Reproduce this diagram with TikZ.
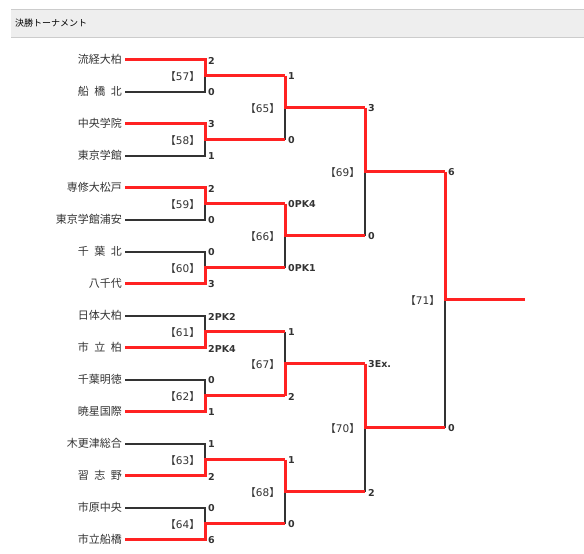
\documentclass[tikz,border=0pt]{standalone}
\usepackage{fontspec}
\newfontfamily\cjk{Noto Sans CJK JP}
\newfontfamily\numf{DejaVu Sans}
\definecolor{ink}{HTML}{333333}
\definecolor{win}{HTML}{FF2222}
\definecolor{hdr}{HTML}{EEEEEE}
\definecolor{hdrline}{HTML}{CCCCCC}
\newcommand\hs{\hspace{0.5em}}
\newcommand\mlab[1]{【{\numf #1}】}
\begin{document}
\begin{tikzpicture}[x=1pt,y=-1pt,
  team/.style={anchor=east,inner sep=0pt,font=\cjk\fontsize{11}{11}\selectfont,text=ink},
  score/.style={anchor=west,inner sep=0pt,font=\numf\bfseries\fontsize{9.5}{9.5}\selectfont,text=ink},
  mlabel/.style={anchor=east,inner sep=0pt,font=\cjk\fontsize{10.5}{10.5}\selectfont,text=ink},
  lose/.style={draw=ink,line width=2pt},
  winl/.style={draw=win,line width=3pt},
  hdrbox/.style={fill=hdr,draw=none,minimum width=573pt,minimum height=28pt,inner sep=0pt,anchor=north west},
  hdrrule/.style={draw=hdrline,line width=1pt},
  title/.style={anchor=west,inner sep=0pt,font=\cjk\fontsize{9}{9}\selectfont,text=black}
]
\useasboundingbox (0,0) rectangle (584,554);
\fill[white] (0,0) rectangle (584,554);
% header
\node[hdrbox] (header) at (11,9) {};
\draw[hdrrule] (header.north west) -- (header.north east);
\draw[hdrrule] (header.south west) -- (header.south east);
\node[title] (htitle) at (15,23.5) {決勝トーナメント};
% team line coordinates
\foreach \i/\y in {1/59.5,2/91.5,3/123.5,4/155.5,5/187.5,6/219.5,7/251.5,8/283.5,
  9/315.5,10/347.5,11/379.5,12/411.5,13/443.5,14/475.5,15/507.5,16/539.5}{
  \coordinate (s\i) at (125,\y);
  \coordinate (e\i) at (205,\y);
}
% round junctions
\foreach \k/\y in {1/75.5,2/139.5,3/203.5,4/267.5,5/331.5,6/395.5,7/459.5,8/523.5}{
  \coordinate (j\k) at (205,\y);
  \coordinate (p\k) at (285,\y);
}
\foreach \k/\y in {1/107.5,2/235.5,3/363.5,4/491.5}{
  \coordinate (k\k) at (285,\y);
  \coordinate (q\k) at (365,\y);
}
\foreach \k/\y in {1/171.5,2/427.5}{
  \coordinate (l\k) at (365,\y);
  \coordinate (r\k) at (445,\y);
}
\coordinate (f) at (445,299.5);
\coordinate (c) at (525,299.5);
% team names
\node[team] (n1) at (122,59.5) {流経大柏};
\node[team] (n2) at (122,91.5) {船\hs 橋\hs 北};
\node[team] (n3) at (122,123.5) {中央学院};
\node[team] (n4) at (122,155.5) {東京学館};
\node[team] (n5) at (122,187.5) {専修大松戸};
\node[team] (n6) at (122,219.5) {東京学館浦安};
\node[team] (n7) at (122,251.5) {千\hs 葉\hs 北};
\node[team] (n8) at (122,283.5) {八千代};
\node[team] (n9) at (122,315.5) {日体大柏};
\node[team] (n10) at (122,347.5) {市\hs 立\hs 柏};
\node[team] (n11) at (122,379.5) {千葉明徳};
\node[team] (n12) at (122,411.5) {暁星国際};
\node[team] (n13) at (122,443.5) {木更津総合};
\node[team] (n14) at (122,475.5) {習\hs 志\hs 野};
\node[team] (n15) at (122,507.5) {市原中央};
\node[team] (n16) at (122,539.5) {市立船橋};
% losing lines
\draw[lose] (s2)--(e2)--(j1);
\draw[lose] (s4)--(e4)--(j2);
\draw[lose] (s6)--(e6)--(j3);
\draw[lose] (s7)--(e7)--(j4);
\draw[lose] (s9)--(e9)--(j5);
\draw[lose] (s11)--(e11)--(j6);
\draw[lose] (s13)--(e13)--(j7);
\draw[lose] (s15)--(e15)--(j8);
\draw[lose] (p2)--(k1);
\draw[lose] (p4)--(k2);
\draw[lose] (p5)--(k3);
\draw[lose] (p8)--(k4);
\draw[lose] (q2)--(l1);
\draw[lose] (q4)--(l2);
\draw[lose] (r2)--(f);
% winning lines
\draw[winl] (s1)--(e1)--(j1)--(p1);
\draw[winl] (s3)--(e3)--(j2)--(p2);
\draw[winl] (s5)--(e5)--(j3)--(p3);
\draw[winl] (s8)--(e8)--(j4)--(p4);
\draw[winl] (s10)--(e10)--(j5)--(p5);
\draw[winl] (s12)--(e12)--(j6)--(p6);
\draw[winl] (s14)--(e14)--(j7)--(p7);
\draw[winl] (s16)--(e16)--(j8)--(p8);
\draw[winl] (p1)--(k1)--(q1);
\draw[winl] (p3)--(k2)--(q2);
\draw[winl] (p6)--(k3)--(q3);
\draw[winl] (p7)--(k4)--(q4);
\draw[winl] (q1)--(l1)--(r1);
\draw[winl] (q3)--(l2)--(r2);
\draw[winl] (r1)--(f)--(c);
% first round scores
\foreach \i/\y/\t in {1/59.5/2,2/91.5/0,3/123.5/3,4/155.5/1,5/187.5/2,6/219.5/0,7/251.5/0,8/283.5/3,
  9/315.5/2PK2,10/347.5/2PK4,11/379.5/0,12/411.5/1,13/443.5/1,14/475.5/2,15/507.5/0,16/539.5/6}{
  \node[score] (a\i) at (208,\y+1) {\t};
}
% second round scores
\foreach \i/\y/\t in {1/75.5/1,2/139.5/0,3/203.5/0PK4,4/267.5/0PK1,5/331.5/1,6/395.5/2,7/459.5/1,8/523.5/0}{
  \node[score] (b\i) at (288,\y+1) {\t};
}
\foreach \i/\y/\t in {1/107.5/3,2/235.5/0,3/363.5/3Ex.,4/491.5/2}{
  \node[score] (cc\i) at (368,\y+1) {\t};
}
\node[score] (d1) at (448,172.5) {6};
\node[score] (d2) at (448,428.5) {0};
% match labels
\foreach \m/\y in {57/75.5,58/139.5,59/203.5,60/267.5,61/331.5,62/395.5,63/459.5,64/523.5}{
  \node[mlabel] (m\m) at (200,\y+1) {\mlab{\m}};
}
\foreach \m/\y in {65/107.5,66/235.5,67/363.5,68/491.5}{
  \node[mlabel] (m\m) at (280,\y+1) {\mlab{\m}};
}
\node[mlabel] (m69) at (360,172.5) {\mlab{69}};
\node[mlabel] (m70) at (360,428.5) {\mlab{70}};
\node[mlabel] (m71) at (440,300.5) {\mlab{71}};
\end{tikzpicture}
\end{document}
